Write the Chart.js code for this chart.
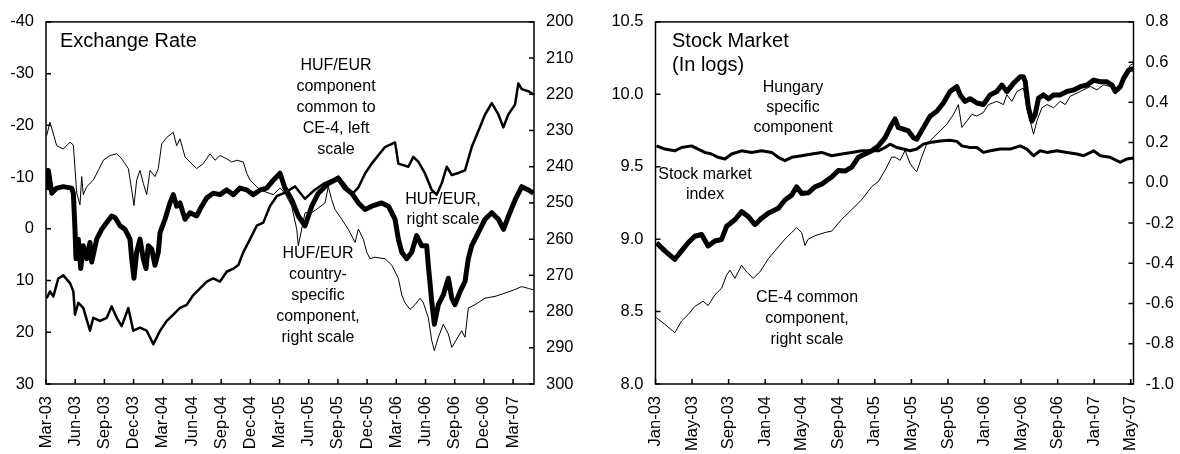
<!DOCTYPE html>
<html>
<head>
<meta charset="utf-8">
<script src="https://cdn.jsdelivr.net/npm/chart.js@4.4.1/dist/chart.umd.min.js"></script>
<style>
  html, body { margin: 0; padding: 0; background: #fff; }
  .panel { position: absolute; top: 0; width: 590px; height: 454px; }
  #left { left: 0; }
  #right { left: 590px; }
</style>
</head>
<body>
<div class="panel" id="left"><canvas id="fx" width="590" height="454"></canvas></div>
<div class="panel" id="right"><canvas id="stock" width="590" height="454"></canvas></div>
<script>
// ---- exchange rate panel (x = months since Mar-03) ----
const fxTickLabels = ['Mar-03','Jun-03','Sep-03','Dec-03','Mar-04','Jun-04','Sep-04','Dec-04','Mar-05',
  'Jun-05','Sep-05','Dec-05','Mar-06','Jun-06','Sep-06','Dec-06','Mar-07'];
const fxLeftTicks = [-40, -30, -20, -10, 0, 10, 20, 30];
const fxRightTicks = [200, 210, 220, 230, 240, 250, 260, 270, 280, 290, 300];

// HUF/EUR country-specific component (right scale)
const fxCountryMonths = [0.07,0.41,1.10,1.78,2.47,2.81,3.16,3.49,3.67,3.83,4.18,4.86,5.38,5.89,6.58,7.27,7.78,8.46,8.81,9.04,
  9.32,9.66,10.0,10.35,10.69,11.2,11.54,11.89,12.41,13.08,13.43,13.77,14.29,14.8,15.49,16.17,16.86,17.37,17.88,18.57,
  19.08,19.63,20.28,20.63,20.97,21.99,23.36,24.05,24.56,25.25,25.77,25.93,26.62,27.31,27.99,28.67,29.01,29.36,29.7,30.39,
  31.07,31.76,32.1,32.61,32.96,33.3,33.81,34.84,35.53,36.21,36.56,36.9,37.41,37.92,38.44,38.78,39.29,39.64,39.91,40.32,
  40.83,41.35,41.7,42.21,42.72,43.06,43.4,44.09,45.12,46.15,47.17,48.2,48.89,49.57,50.1];
const fxCountry = [231.4,227.7,234.2,235.1,233.2,234.0,247.3,250.5,242.7,247.7,245.5,243.7,241.0,238.2,236.9,236.4,237.8,240.5,246.4,250.7,
  243.7,241.0,244.6,247.7,241.0,242.7,240.5,233.7,231.9,230.5,234.2,232.3,237.3,238.7,240.5,239.1,236.4,238.2,236.9,237.8,
  238.7,238.2,238.7,241.8,243.7,246.4,247.7,245.9,247.3,250.9,257.3,261.8,252.7,252.7,251.4,250.0,245.5,249.1,251.8,254.5,
  257.3,260.9,257.2,260.0,263.6,265.4,265.0,265.4,267.2,270.8,275.4,277.6,279.4,278.1,276.3,277.6,281.7,288.0,290.8,287.1,
  283.5,286.2,289.9,287.6,285.3,287.1,279.0,278.1,276.3,275.8,274.9,273.9,273.1,273.6,274.0];

// HUF/EUR (right scale)
const fxRateMonths = [0,0.24,0.59,1.10,1.78,2.64,2.81,2.98,3.08,3.32,3.57,3.83,4.18,4.52,4.70,5.21,5.72,6.24,6.75,7.09,
  7.61,8.12,8.63,8.81,9.04,9.32,9.66,10.0,10.28,10.51,10.86,11.2,11.54,11.72,12.23,12.74,13.08,13.43,13.77,14.29,
  14.8,15.49,16.0,16.52,17.19,17.88,18.57,19.25,19.94,20.63,21.31,21.99,22.68,23.36,24.05,24.56,25.25,25.93,26.62,27.31,
  27.99,29.01,30.04,30.73,31.42,32.1,32.79,33.47,34.5,35.19,35.87,36.21,36.56,37.07,37.58,38.09,38.6,39.12,39.29,39.64,
  39.91,40.32,40.83,41.35,41.7,42.03,42.55,43.06,43.4,43.75,44.43,45.12,45.81,46.49,47.02,47.53,48.22,48.89,49.57,50.1];
const fxRate = [246.4,241.0,247.3,245.9,245.5,245.9,247.3,257.3,265.4,260.0,268.1,261.8,265.4,260.9,266.3,260.0,257.3,255.4,253.6,254.0,
  256.3,257.3,260.0,265.4,270.8,263.6,260.0,265.4,268.1,261.8,262.7,267.2,263.6,258.2,254.5,250.0,247.7,250.9,250.0,254.5,
  252.7,253.6,250.9,248.6,247.3,247.7,246.4,247.7,245.9,246.4,247.7,246.4,245.9,243.7,241.8,245.9,249.1,253.6,256.3,250.9,
  247.3,244.6,243.2,245.9,247.3,250.0,251.8,250.9,250.0,250.9,254.5,260.0,263.6,265.4,263.6,259.0,261.8,261.8,267.2,277.2,
  283.5,278.1,275.4,270.8,276.3,278.1,274.5,271.7,265.4,261.8,258.2,254.5,252.7,254.5,257.3,253.6,249.1,245.5,246.4,247.3];

// HUF/EUR component common to CE-4 (left scale)
const fxCommonMonths = [0.07,0.41,0.75,1.26,1.78,2.47,2.81,2.98,3.32,3.83,4.52,4.86,5.55,6.24,6.75,7.27,7.78,8.46,8.97,9.66,
  10.35,11.03,11.72,12.41,13.08,13.77,14.46,15.14,15.83,16.52,17.19,17.88,18.57,19.25,19.77,20.28,20.97,21.66,22.33,23.02,
  23.71,24.56,25.6,26.6,27.6,28.6,29.6,30.04,30.73,31.42,32.1,32.79,33.47,34.84,35.87,36.21,37.24,37.75,38.26,38.95,
  39.64,40.15,40.67,41.18,41.7,42.38,43.06,43.75,44.43,45.12,45.81,46.49,47.0,47.51,48.2,48.54,48.89,49.57,50.1];
const fxCommon = [13.4,12.1,13.1,9.6,9.0,10.5,12.1,16.6,14.3,15.3,19.7,17.2,17.8,17.2,15.0,17.2,18.8,15.3,19.7,19.1,
  19.7,22.3,19.7,17.8,16.6,15.3,14.7,12.8,11.5,10.2,9.6,10.2,8.3,7.7,7.0,4.5,2.0,-0.6,-1.2,-4.4,
  -6.3,-7.0,-8.2,-5.8,-7.5,-8.8,-9.6,-10.1,-8.5,-6.6,-8.0,-10.7,-12.6,-15.8,-16.7,-12.6,-12.0,-13.9,-13.0,-10.7,
  -7.5,-6.6,-8.8,-12.0,-10.4,-10.8,-11.3,-15.8,-18.9,-22.1,-24.3,-22.1,-19.6,-22.1,-24.0,-28.1,-27.0,-26.6,-26.0];

// ---- stock market panel (x = months since Jan-03) ----
const stTickLabels = ['Jan-03','May-03','Sep-03','Jan-04','May-04','Sep-04','Jan-05','May-05','Sep-05',
  'Jan-06','May-06','Sep-06','Jan-07','May-07'];
const stLeftTicks = [8.0, 8.5, 9.0, 9.5, 10.0, 10.5];
const stRightTicks = [-1.0, -0.8, -0.6, -0.4, -0.2, 0.0, 0.2, 0.4, 0.6, 0.8];

// Stock market index (left scale)
const stIndexMonths = [0.11,1.02,2.11,2.85,3.57,4.30,5.04,5.76,6.50,7.23,7.78,8.69,9.42,10.14,10.88,11.61,12.33,13.43,14.16,14.90,
  15.44,15.99,16.71,17.45,18.18,19.28,20.0,20.73,21.47,22.19,22.92,23.66,24.38,25.12,25.85,26.21,26.57,27.12,27.67,28.21,
  28.59,29.31,30.04,30.78,31.5,32.23,32.97,33.33,33.88,34.42,35.16,35.88,36.62,37.35,37.9,38.44,39.17,39.9,40.26,40.45,
  40.81,41.18,41.54,41.91,42.45,43.0,43.55,44.28,45.02,45.75,46.48,47.21,47.94,48.67,49.4,49.95,50.31,50.86,51.22,51.77,52.3];
const stIndex = [8.975,8.919,8.861,8.919,8.975,9.02,9.032,8.953,8.987,8.998,9.089,9.134,9.19,9.157,9.10,9.145,9.179,9.213,9.27,9.304,
  9.361,9.316,9.32,9.361,9.38,9.429,9.474,9.47,9.497,9.565,9.588,9.61,9.644,9.701,9.792,9.83,9.77,9.76,9.747,9.701,
  9.69,9.77,9.849,9.883,9.94,10.019,10.053,9.996,9.951,9.97,9.94,9.93,9.996,10.02,10.064,10.019,10.076,10.121,10.121,10.09,
  9.906,9.815,9.86,9.974,9.996,9.97,9.996,9.996,10.02,10.03,10.053,10.064,10.098,10.087,10.087,10.064,10.019,10.053,10.11,10.167,10.178];

// Hungary specific component (left scale)
const stHungaryMonths = [0.11,1.02,2.11,2.85,3.94,4.67,5.40,6.13,6.86,7.59,8.32,9.42,10.51,11.61,12.71,13.43,14.16,14.90,15.99,17.09,
  18.18,19.28,20.37,21.47,22.56,23.66,24.38,25.12,25.66,26.40,27.12,27.85,28.59,29.31,30.04,31.14,32.23,32.97,33.52,34.42,
  35.16,35.88,36.62,37.71,38.81,39.90,40.63,41.36,42.09,42.83,43.92,45.02,46.11,46.84,47.93,48.67,49.75,50.85,51.59,52.3];
const stHungary = [9.644,9.622,9.61,9.633,9.644,9.622,9.599,9.588,9.565,9.554,9.588,9.61,9.599,9.61,9.599,9.565,9.542,9.565,9.576,9.588,
  9.599,9.576,9.588,9.599,9.61,9.61,9.61,9.633,9.656,9.633,9.622,9.61,9.622,9.656,9.667,9.678,9.683,9.675,9.644,9.633,
  9.633,9.599,9.61,9.622,9.622,9.644,9.622,9.576,9.61,9.599,9.61,9.599,9.588,9.576,9.61,9.576,9.565,9.531,9.554,9.561];

// CE-4 common component (right scale)
const stCommonMonths = [0.11,1.02,2.11,2.85,3.57,4.30,5.21,5.76,6.50,7.23,7.78,8.14,8.69,9.42,9.97,10.69,11.42,12.33,13.25,14.16,
  14.90,15.44,15.99,16.35,16.71,17.45,18.54,19.28,20.37,21.47,22.56,23.66,24.38,25.12,25.85,26.21,26.76,27.31,27.85,28.40,
  28.59,29.13,29.68,30.41,31.14,31.87,32.60,33.14,33.52,34.06,34.61,35.16,35.88,36.43,37.35,38.07,38.44,38.99,39.54,40.26,
  40.63,41.36,41.73,42.28,42.83,43.55,44.28,44.83,45.37,46.47,47.57,48.30,49.03,49.76,50.31,50.86,51.41,51.95,52.3];
const stCommon = [-0.671,-0.703,-0.745,-0.687,-0.655,-0.614,-0.589,-0.61,-0.557,-0.524,-0.459,-0.434,-0.475,-0.41,-0.443,-0.475,-0.443,-0.378,-0.329,-0.28,
  -0.247,-0.223,-0.247,-0.312,-0.28,-0.263,-0.247,-0.24,-0.182,-0.133,-0.084,-0.019,0.006,0.063,0.128,0.128,0.112,0.161,0.096,0.063,
  0.056,0.128,0.193,0.226,0.258,0.291,0.34,0.389,0.275,0.307,0.34,0.332,0.35,0.389,0.405,0.389,0.438,0.405,0.454,0.471,
  0.373,0.242,0.307,0.373,0.389,0.373,0.405,0.389,0.43,0.454,0.479,0.462,0.487,0.479,0.446,0.471,0.536,0.585,0.593];

const FONT = '"Liberation Sans", Arial, sans-serif';

function points(xs, ys) {
  return xs.map((x, i) => ({ x, y: ys[i] }));
}

function line(xs, ys, axis, width, order) {
  return {
    data: points(xs, ys), yAxisID: axis, borderColor: '#000', borderWidth: width,
    pointRadius: 0, tension: 0, borderJoinStyle: 'round', order
  };
}

function xAxis(labels, step, max) {
  return {
    type: 'linear', position: 'bottom', min: 0, max,
    afterBuildTicks: s => { s.ticks = labels.map((_, i) => ({ value: i * step })); },
    afterFit: s => { s.height = 70; },
    grid: { display: false, drawTicks: false },
    border: { display: false },
    ticks: {
      autoSkip: false, minRotation: 90, maxRotation: 90, padding: 12, color: '#000',
      font: { family: FONT, size: 16.5 }, callback: (v, i) => labels[i]
    }
  };
}

function yAxis(position, tickValues, reverse, width, fmt) {
  return {
    type: 'linear', position, reverse,
    min: Math.min(...tickValues), max: Math.max(...tickValues),
    afterBuildTicks: s => { s.ticks = tickValues.map(v => ({ value: v })); },
    afterFit: s => { s.width = width; },
    grid: { display: false, drawTicks: false },
    border: { display: false },
    ticks: { color: '#000', padding: 12, font: { family: FONT, size: 16.5 }, callback: fmt }
  };
}

// plot frame, inward tick marks and the text notes
const framePlugin = {
  id: 'frame',
  afterDraw(chart, args, opts) {
    const { ctx, chartArea: a, scales } = chart;
    ctx.save();
    ctx.strokeStyle = '#000';
    ctx.lineWidth = 1.5;
    ctx.strokeRect(a.left, a.top, a.width, a.height);
    ctx.beginPath();
    scales.x.ticks.forEach(t => {
      const px = scales.x.getPixelForValue(t.value);
      ctx.moveTo(px, a.bottom); ctx.lineTo(px, a.bottom - 5);
    });
    scales.yL.ticks.forEach(t => {
      const py = scales.yL.getPixelForValue(t.value);
      ctx.moveTo(a.left, py); ctx.lineTo(a.left + 5, py);
    });
    scales.yR.ticks.forEach(t => {
      const py = scales.yR.getPixelForValue(t.value);
      ctx.moveTo(a.right, py); ctx.lineTo(a.right - 5, py);
    });
    ctx.stroke();

    ctx.fillStyle = '#000';
    ctx.textBaseline = 'middle';
    (opts.notes || []).forEach(n => {
      ctx.font = `${n.size}px ${FONT}`;
      ctx.textAlign = n.align;
      n.lines.forEach((txt, i) => ctx.fillText(txt, n.x, n.y + i * n.gap));
    });
    ctx.restore();
  }
};

function baseOptions(scales, notes) {
  return {
    responsive: false, animation: false, devicePixelRatio: 1, events: [],
    layout: { padding: { top: 16, left: 0, right: 0, bottom: 0 } },
    plugins: { legend: { display: false }, tooltip: { enabled: false }, frame: { notes } },
    scales
  };
}

new Chart(document.getElementById('fx'), {
  type: 'line',
  data: {
    datasets: [
      line(fxCountryMonths, fxCountry, 'yR', 1, 1),
      line(fxCommonMonths, fxCommon, 'yL', 2.5, 2),
      line(fxRateMonths, fxRate, 'yR', 5, 3)
    ]
  },
  options: baseOptions({
    x: xAxis(fxTickLabels, 3, 50.15),
    yL: yAxis('left', fxLeftTicks, true, 46, v => String(v)),
    yR: yAxis('right', fxRightTicks, true, 56, v => String(v))
  }, [
    { lines: ['Exchange Rate'], x: 60, y: 41, size: 20, gap: 23, align: 'left' },
    { lines: ['HUF/EUR', 'component', 'common to', 'CE-4, left', 'scale'], x: 336, y: 66, size: 16, gap: 21, align: 'center' },
    { lines: ['HUF/EUR,', 'right scale'], x: 443, y: 200, size: 16, gap: 20, align: 'center' },
    { lines: ['HUF/EUR', 'country-', 'specific', 'component,', 'right scale'], x: 318, y: 254, size: 16, gap: 21, align: 'center' }
  ]),
  plugins: [framePlugin]
});

new Chart(document.getElementById('stock'), {
  type: 'line',
  data: {
    datasets: [
      line(stCommonMonths, stCommon, 'yR', 1, 1),
      line(stHungaryMonths, stHungary, 'yL', 3, 2),
      line(stIndexMonths, stIndex, 'yL', 5, 3)
    ]
  },
  options: baseOptions({
    x: xAxis(stTickLabels, 4, 52.3),
    yL: yAxis('left', stLeftTicks, false, 65.5, v => v.toFixed(1)),
    yR: yAxis('right', stRightTicks, false, 46.5, v => v.toFixed(1))
  }, [
    { lines: ['Stock Market', '(In logs)'], x: 82, y: 41, size: 20, gap: 24, align: 'left' },
    { lines: ['Hungary', 'specific', 'component'], x: 203, y: 88, size: 16, gap: 20, align: 'center' },
    { lines: ['Stock market', 'index'], x: 115, y: 175, size: 16, gap: 20, align: 'center' },
    { lines: ['CE-4 common', 'component,', 'right scale'], x: 217, y: 298, size: 16, gap: 21, align: 'center' }
  ]),
  plugins: [framePlugin]
});
</script>
</body>
</html>
